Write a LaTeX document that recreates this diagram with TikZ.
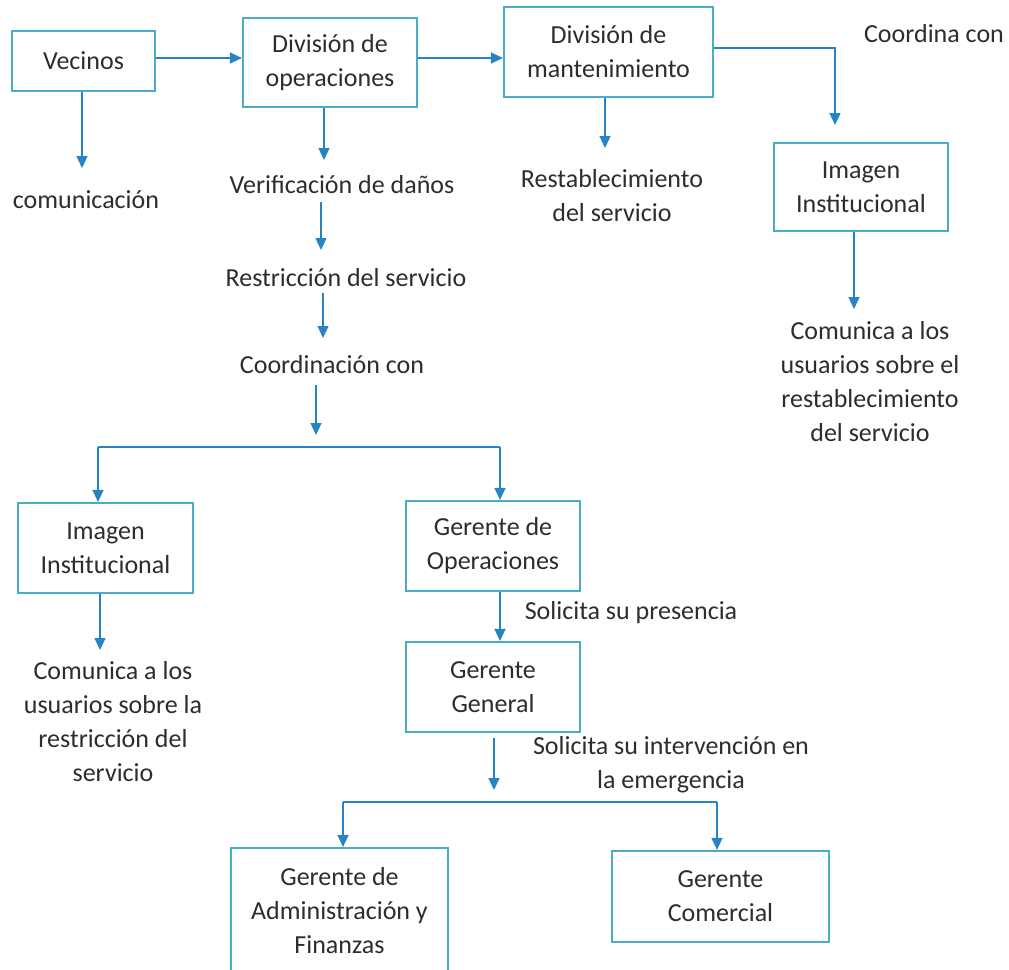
\documentclass[tikz,border=0pt]{standalone}
\usepackage{fontspec}
\setmainfont{Carlito}
\usetikzlibrary{arrows.meta}
\definecolor{boxc}{RGB}{75,172,198}
\definecolor{arrc}{RGB}{38,132,196}
\definecolor{txtc}{RGB}{45,45,45}
\tikzset{
  box/.style={draw=boxc, line width=2.2pt, fill=white, inner sep=0pt, align=center, text=txtc},
  lbl/.style={inner sep=0pt, align=center, text=txtc, anchor=base},
  arr/.style={draw=arrc, line width=1.3pt, -{Triangle[width=11pt,length=12pt]}},
  ln/.style={draw=arrc, line width=1.3pt}
}
\begin{document}
\begin{tikzpicture}[x=1pt,y=-1pt,font=\fontsize{26}{34}\selectfont]
\fill[white] (0,0) rectangle (1009,969);
\useasboundingbox (0,0) rectangle (1009,969);

% boxes
\node[box, minimum width=143pt, minimum height=60pt] (vec) at (83.5,61) {Vecinos};
\node[box, minimum width=174pt, minimum height=89pt] (divop) at (330,62.5) {División de\\operaciones};
\node[box, minimum width=209pt, minimum height=90pt] (divmant) at (608.5,52) {División de\\mantenimiento};
\node[box, minimum width=174pt, minimum height=88pt] (imgR) at (861,187) {Imagen\\Institucional};
\node[box, minimum width=175pt, minimum height=90pt] (imgL) at (105.5,548) {Imagen\\Institucional};
\node[box, minimum width=174pt, minimum height=90pt] (gop) at (493,546) {Gerente de\\Operaciones};
\node[box, minimum width=174pt, minimum height=90pt] (ggen) at (493,687) {Gerente\\General};
\node[box, minimum width=217pt, minimum height=126pt] (gadm) at (339.5,911) {Gerente de\\Administración y\\Finanzas};
\node[box, minimum width=217pt, minimum height=91pt] (gcom) at (720.5,896.5) {Gerente\\Comercial};

% labels (base = baseline of last line)
\node[lbl] (comm) at (86,208) {comunicación};
\node[lbl] (verif) at (342,193) {Verificación de daños};
\node[lbl] (restr) at (346,286) {Restricción del servicio};
\node[lbl] (coord) at (332,373) {Coordinación con};
\node[lbl] (rest) at (612,221) {Restablecimiento\\del servicio};
\node[lbl] (coordcon) at (934,42) {Coordina con};
\node[lbl] (comR) at (870,441) {Comunica a los\\usuarios sobre el\\restablecimiento\\del servicio};
\node[lbl] (comL) at (113,781) {Comunica a los\\usuarios sobre la\\restricción del\\servicio};
\node[lbl] (solp) at (631,619) {Solicita su presencia};
\node[lbl] (soli) at (671,788) {Solicita su intervención en\\la emergencia};

% coordinates
\coordinate (y58) at (0,58);
\coordinate (tA) at (82,168);
\coordinate (tB) at (324,160);
\coordinate (sC) at (321,202);
\coordinate (tC) at (321,250);
\coordinate (sD) at (323,293);
\coordinate (tD) at (323,338);
\coordinate (sE) at (316,385);
\coordinate (tE) at (316,435);
\coordinate (jL) at (98,447);
\coordinate (jR) at (500,447);
\coordinate (tF) at (100,650);
\coordinate (xG) at (500,0);
\coordinate (sH) at (494,738);
\coordinate (tH) at (494,790);
\coordinate (kL) at (343,802);
\coordinate (kR) at (717,802);
\coordinate (tI) at (605,148);
\coordinate (mJ) at (835,48);
\coordinate (tJ) at (835,125);
\coordinate (tK) at (854,309);

% connectors
\draw[arr] (vec.east |- y58) -- (divop.west |- y58);
\draw[arr] (divop.east |- y58) -- (divmant.west |- y58);
\draw[arr] (vec.south -| tA) -- (tA);
\draw[arr] (divop.south -| tB) -- (tB);
\draw[arr] (sC) -- (tC);
\draw[arr] (sD) -- (tD);
\draw[arr] (sE) -- (tE);
\draw[ln] (jL) -- (jR);
\draw[arr] (jL) -- (imgL.north -| jL);
\draw[arr] (jR) -- (gop.north -| jR);
\draw[arr] (imgL.south -| tF) -- (tF);
\draw[arr] (gop.south -| xG) -- (ggen.north -| xG);
\draw[arr] (sH) -- (tH);
\draw[ln] (kL) -- (kR);
\draw[arr] (kL) -- (gadm.north -| kL);
\draw[arr] (kR) -- (gcom.north -| kR);
\draw[arr] (divmant.south -| tI) -- (tI);
\draw[arr] (divmant.east |- mJ) -- (mJ) -- (tJ);
\draw[arr] (imgR.south -| tK) -- (tK);
\end{tikzpicture}
\end{document}
